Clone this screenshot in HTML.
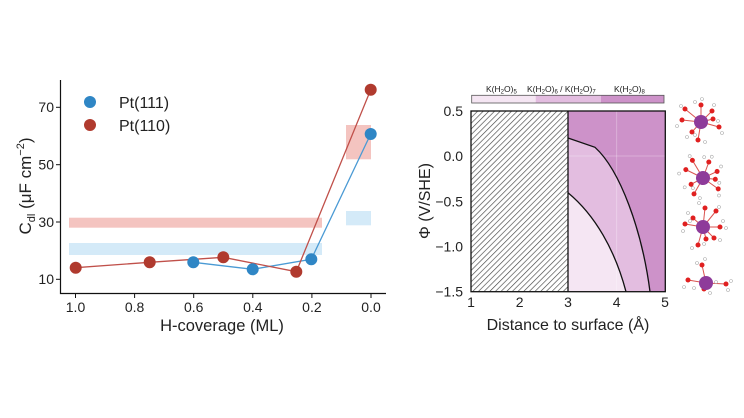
<!DOCTYPE html>
<html><head><meta charset="utf-8"><style>
html,body{margin:0;padding:0;background:#fff;}
svg{display:block;font-family:"Liberation Sans","DejaVu Sans",sans-serif;}
</style></head><body>
<svg width="744" height="418" viewBox="0 0 744 418">
<defs>
<pattern id="h" patternUnits="userSpaceOnUse" width="4" height="4" patternTransform="rotate(45)">
<rect width="4" height="4" fill="#fff"/><line x1="0" y1="0" x2="0" y2="4" stroke="#444" stroke-width="1.3"/>
</pattern>
</defs>
<!-- LEFT PLOT -->
<rect x="69" y="217.7" width="253" height="10" fill="#f4c4c0"/>
<rect x="69" y="243" width="253" height="12" fill="#d4eaf8"/>
<rect x="346" y="125" width="25" height="34.3" fill="#f4c4c0"/>
<rect x="346" y="211" width="25" height="14.3" fill="#d4eaf8"/>
<polyline points="193.3,262.3 252.7,269.3 311.3,259.3 370.7,134" fill="none" stroke="#4a9ad4" stroke-width="1.3"/>
<polyline points="75.7,267.7 149.7,262.3 223.3,257.3 296.3,271.7 370.7,89.7" fill="none" stroke="#c0504a" stroke-width="1.3"/>
<g fill="#2f86c5"><circle cx="193.3" cy="262.3" r="6"/><circle cx="252.7" cy="269.3" r="6"/><circle cx="311.3" cy="259.3" r="6"/><circle cx="370.7" cy="134" r="6"/></g>
<g fill="#b03a2e"><circle cx="75.7" cy="267.7" r="6"/><circle cx="149.7" cy="262.3" r="6"/><circle cx="223.3" cy="257.3" r="6"/><circle cx="296.3" cy="271.7" r="6"/><circle cx="370.7" cy="89.7" r="6"/></g>
<circle cx="90" cy="102" r="6" fill="#2f86c5"/><circle cx="90" cy="125" r="6" fill="#b03a2e"/>
<text x="119" y="108" font-size="16" fill="#222">Pt(111)</text>
<text x="119" y="131" font-size="16" fill="#222">Pt(110)</text>
<path d="M60.5,80 V293.5 H386" fill="none" stroke="#111" stroke-width="1.2"/>
<g stroke="#111" stroke-width="1"><line x1="56" y1="107.3" x2="60.5" y2="107.3"/><line x1="56" y1="164.7" x2="60.5" y2="164.7"/><line x1="56" y1="222" x2="60.5" y2="222"/><line x1="56" y1="279.3" x2="60.5" y2="279.3"/>
<line x1="75.5" y1="293.5" x2="75.5" y2="298"/><line x1="134.6" y1="293.5" x2="134.6" y2="298"/><line x1="193.7" y1="293.5" x2="193.7" y2="298"/><line x1="252.8" y1="293.5" x2="252.8" y2="298"/><line x1="311.9" y1="293.5" x2="311.9" y2="298"/><line x1="371" y1="293.5" x2="371" y2="298"/></g>
<g font-size="14" fill="#222" text-anchor="end"><text x="54" y="112">70</text><text x="54" y="169.5">50</text><text x="54" y="227">30</text><text x="54" y="284">10</text></g>
<g font-size="14" fill="#222" text-anchor="middle"><text x="75.5" y="312">1.0</text><text x="134.6" y="312">0.8</text><text x="193.7" y="312">0.6</text><text x="252.8" y="312">0.4</text><text x="311.9" y="312">0.2</text><text x="371" y="312">0.0</text></g>
<text x="222" y="331" font-size="16.5" fill="#222" text-anchor="middle">H-coverage (ML)</text>
<text transform="translate(31,186) rotate(-90)" font-size="17" fill="#222" text-anchor="middle">C<tspan font-size="11" dy="4">dl</tspan><tspan dy="-4"> (μF cm</tspan><tspan font-size="11" dy="-7">−2</tspan><tspan dy="7">)</tspan></text>
<!-- RIGHT PLOT -->
<rect x="471.7" y="95.3" width="64" height="7.7" fill="#f5e6f3"/>
<rect x="535.7" y="95.3" width="65.3" height="7.7" fill="#e3bde0"/>
<rect x="601" y="95.3" width="63" height="7.7" fill="#cd92c9"/>
<rect x="471.7" y="95.3" width="192.3" height="7.7" fill="none" stroke="#555" stroke-width="0.8"/>
<g font-size="8.5" fill="#222"><text x="486" y="92">K(H<tspan font-size="6" dy="1.5">2</tspan><tspan dy="-1.5">O)</tspan><tspan font-size="6" dy="1.5">5</tspan></text>
<text x="527" y="92">K(H<tspan font-size="6" dy="1.5">2</tspan><tspan dy="-1.5">O)</tspan><tspan font-size="6" dy="1.5">6</tspan><tspan dy="-1.5"> / K(H</tspan><tspan font-size="6" dy="1.5">2</tspan><tspan dy="-1.5">O)</tspan><tspan font-size="6" dy="1.5">7</tspan></text>
<text x="614" y="92">K(H<tspan font-size="6" dy="1.5">2</tspan><tspan dy="-1.5">O)</tspan><tspan font-size="6" dy="1.5">8</tspan></text></g>
<rect x="471" y="111" width="97" height="180.7" fill="url(#h)"/>
<rect x="568" y="111" width="97.3" height="180.7" fill="#cd92c9"/>
<path d="M568,138 L595,147.3 C620,170 642,230 650,291.7 L568,291.7 Z" fill="#e3bde0"/>
<path d="M568,192.7 C595,215 615,250 626,291.7 L568,291.7 Z" fill="#f5e6f3"/>
<line x1="616.7" y1="111" x2="616.7" y2="291.7" stroke="#fff" stroke-opacity="0.35" stroke-width="0.8"/>
<line x1="568" y1="156" x2="665" y2="156" stroke="#fff" stroke-opacity="0.35" stroke-width="0.8"/>
<path d="M568,138 L595,147.3 C620,170 642,230 650,291.7" fill="none" stroke="#111" stroke-width="1.3"/>
<path d="M568,192.7 C595,215 615,250 626,291.7" fill="none" stroke="#111" stroke-width="1.3"/>
<line x1="568" y1="111" x2="568" y2="291.7" stroke="#111" stroke-width="1.3"/>
<rect x="471" y="111" width="194.3" height="180.7" fill="none" stroke="#111" stroke-width="1.3"/>
<g font-size="14" fill="#222" text-anchor="end"><text x="463" y="116">0.5</text><text x="463" y="161">0.0</text><text x="463" y="206.5">−0.5</text><text x="463" y="251.5">−1.0</text><text x="463" y="296.5">−1.5</text></g>
<g font-size="14" fill="#222" text-anchor="middle"><text x="471" y="307">1</text><text x="519.6" y="307">2</text><text x="568" y="307">3</text><text x="616.7" y="307">4</text><text x="665" y="307">5</text></g>
<text x="568" y="330" font-size="16" fill="#222" text-anchor="middle">Distance to surface (Å)</text>
<text transform="translate(430,201) rotate(-90)" font-size="16" fill="#222" text-anchor="middle">Φ (V/SHE)</text>
<!-- molecules -->
<g id="m1" transform="translate(701,122)">
<g stroke="#d9534f" stroke-width="1"><line x1="0" y1="0" x2="0" y2="-17"/><line x1="0" y1="0" x2="-16" y2="-13"/><line x1="0" y1="0" x2="-19" y2="-2"/><line x1="0" y1="0" x2="11" y2="-11"/><line x1="0" y1="0" x2="12" y2="-3"/><line x1="0" y1="0" x2="18" y2="5"/><line x1="0" y1="0" x2="-9" y2="10"/><line x1="0" y1="0" x2="-3" y2="18"/></g>
<g fill="#e02020"><circle cx="0" cy="-17" r="2.5"/><circle cx="-16" cy="-13" r="2.5"/><circle cx="-19" cy="-2" r="2.5"/><circle cx="11" cy="-11" r="2.5"/><circle cx="12" cy="-3" r="2.5"/><circle cx="18" cy="5" r="2.5"/><circle cx="-9" cy="10" r="2.5"/><circle cx="-3" cy="18" r="2.5"/></g>
<g fill="#fff" stroke="#aaa" stroke-width="0.6"><circle cx="-6" cy="-20" r="1.5"/><circle cx="1" cy="-23" r="1.5"/><circle cx="-20" cy="-16" r="1.5"/><circle cx="-24" cy="4" r="1.5"/><circle cx="13" cy="-17" r="1.5"/><circle cx="17" cy="-1" r="1.5"/><circle cx="21" cy="11" r="1.5"/><circle cx="-14" cy="15" r="1.5"/><circle cx="4" cy="20" r="1.5"/><circle cx="-6" cy="13" r="1.5"/></g>
<circle cx="0" cy="0" r="7" fill="#8e3b9a"/></g>
<use href="#m1" transform="translate(2,56) rotate(20 701 122)"/>
<use href="#m1" transform="translate(2,105) rotate(90 701 122)"/>
<g transform="translate(706,283)">
<g stroke="#d9534f" stroke-width="1"><line x1="0" y1="0" x2="-4" y2="-18"/><line x1="0" y1="0" x2="-18" y2="-3"/><line x1="0" y1="0" x2="-2" y2="6"/><line x1="0" y1="0" x2="20" y2="1"/></g>
<g fill="#e02020"><circle cx="-4" cy="-18" r="2.5"/><circle cx="-18" cy="-3" r="2.5"/><circle cx="-2" cy="6" r="2.5"/><circle cx="20" cy="1" r="2.5"/></g>
<g fill="#fff" stroke="#aaa" stroke-width="0.6"><circle cx="-1" cy="-24" r="1.5"/><circle cx="-9" cy="-20" r="1.5"/><circle cx="-22" cy="4" r="1.5"/><circle cx="-12" cy="5" r="1.5"/><circle cx="4" cy="10" r="1.5"/><circle cx="25" cy="-2" r="1.5"/><circle cx="22" cy="7" r="1.5"/><circle cx="10" cy="-1" r="1.5"/></g>
<circle cx="0" cy="0" r="7" fill="#8e3b9a"/></g>
</svg>
</body></html>
